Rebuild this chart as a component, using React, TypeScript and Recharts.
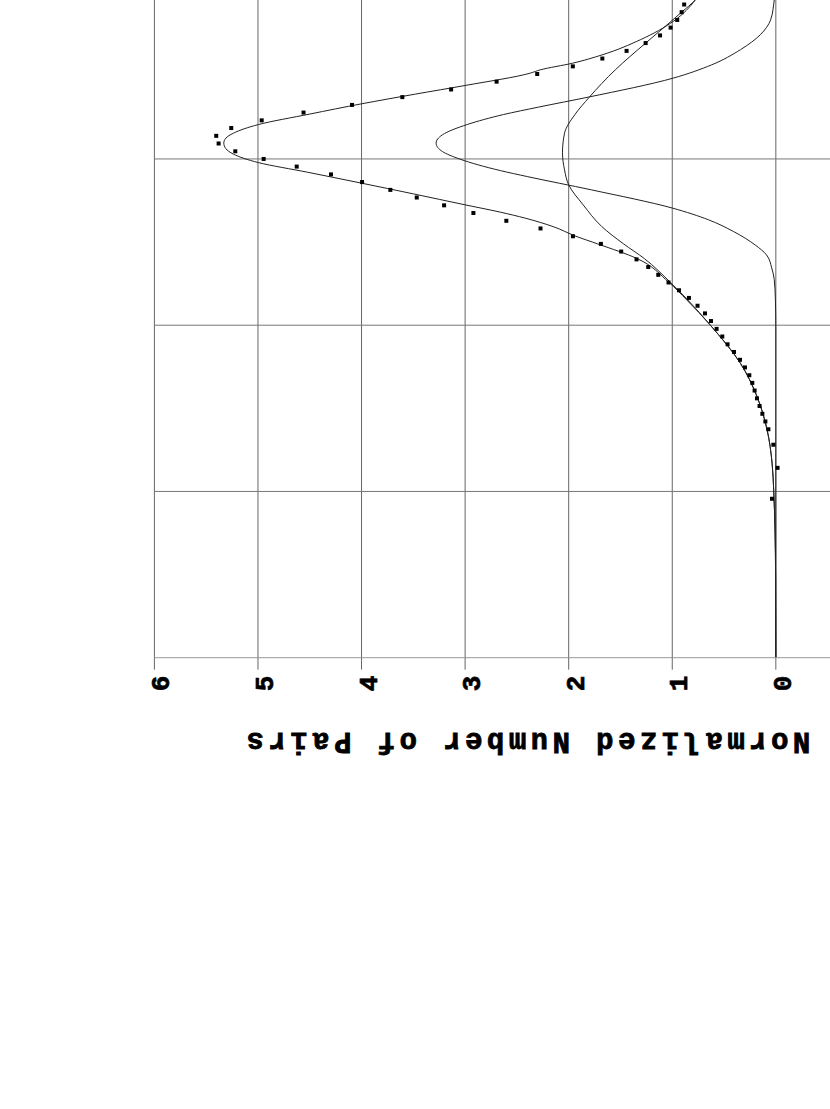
import React from 'react';
import { ComposedChart, Line, Scatter, XAxis, YAxis, CartesianGrid, ReferenceLine } from 'recharts';

// ---- data ----
const axisTitle = 'Normalized Number of Pairs';
const valueTicks = [-1, 0, 1, 2, 3, 4, 5, 6];
const valueGrid = [0, 1, 2, 3, 4, 5, 6];
const xTicks = [0, 1, 2, 3, 4];
const xGrid = [1, 2, 3, 4];

// measured points (small squares)
const dotX = [0.956, 1.142, 1.281, 1.374, 1.421, 1.467, 1.514, 1.560, 1.607, 1.653, 1.699, 1.746, 1.792, 1.839, 1.885, 1.932, 1.978, 2.025, 2.071, 2.117, 2.164, 2.210, 2.257, 2.303, 2.350, 2.396, 2.443, 2.489, 2.535, 2.582, 2.628, 2.675, 2.721, 2.768, 2.814, 2.861, 2.907, 2.954, 3.000, 3.046, 3.093, 3.139, 3.186, 3.232, 3.279, 3.325, 3.372, 3.418, 3.465, 3.511, 3.557, 3.604, 3.650, 3.697, 3.743, 3.790, 3.836, 3.883, 3.929];
const dotV = [0.037, -0.017, 0.024, 0.072, 0.101, 0.130, 0.157, 0.182, 0.205, 0.227, 0.256, 0.298, 0.346, 0.404, 0.466, 0.517, 0.572, 0.626, 0.684, 0.756, 0.839, 0.935, 1.036, 1.135, 1.232, 1.345, 1.493, 1.689, 1.959, 2.272, 2.602, 2.920, 3.203, 3.467, 3.722, 3.995, 4.295, 4.626, 4.945, 5.219, 5.380, 5.403, 5.258, 4.964, 4.560, 4.092, 3.606, 3.135, 2.696, 2.304, 1.960, 1.675, 1.441, 1.257, 1.118, 1.016, 0.952, 0.909, 0.885];

// total fit
const totalX = [0, 0.468, 0.768, 1.0, 1.17, 1.37, 1.57, 1.771, 2.0, 2.152, 2.259, 2.401, 2.489, 2.535, 2.593, 2.644, 2.680, 2.724, 2.790, 2.854, 2.920, 2.978, 3.029, 3.062, 3.095, 3.125, 3.155, 3.207, 3.270, 3.332, 3.390, 3.442, 3.516, 3.536, 3.576, 3.626, 3.717, 3.827, 3.957, 4.0];
const totalV = [0, 0.002, 0.008, 0.02, 0.036, 0.084, 0.181, 0.342, 0.632, 0.86, 1.035, 1.34, 1.72, 1.93, 2.15, 2.42, 2.66, 3.0, 3.5, 3.997, 4.52, 4.995, 5.237, 5.31, 5.33, 5.31, 5.237, 4.995, 4.5, 3.997, 3.48, 2.999, 2.372, 2.274, 1.962, 1.678, 1.308, 0.992, 0.777, 0.73];

// broad component
const wideX = [0, 0.468, 0.768, 1.0, 1.17, 1.37, 1.57, 1.771, 2.0, 2.152, 2.259, 2.401, 2.489, 2.593, 2.724, 2.844, 2.934, 3.037, 3.155, 3.267, 3.372, 3.536, 3.697, 3.807, 3.883, 3.957, 4.0];
const wideV = [0, 0.002, 0.008, 0.02, 0.036, 0.084, 0.181, 0.342, 0.632, 0.85, 1.02, 1.27, 1.47, 1.68, 1.86, 2.0, 2.04, 2.06, 2.04, 1.94, 1.80, 1.55, 1.257, 1.05, 0.909, 0.777, 0.72];

// narrow component
const narrowX = [0, 1.972, 2.152, 2.273, 2.345, 2.423, 2.483, 2.564, 2.634, 2.704, 2.814, 2.894, 2.930, 2.999, 3.045, 3.095, 3.145, 3.207, 3.267, 3.312, 3.372, 3.486, 3.566, 3.657, 3.747, 3.837, 3.957, 4.0];
const narrowV = [0, 0, 0.004, 0.015, 0.04, 0.09, 0.2, 0.41, 0.65, 0.996, 1.78, 2.40, 2.66, 3.05, 3.22, 3.28, 3.22, 2.98, 2.63, 2.29, 1.81, 0.992, 0.62, 0.342, 0.15, 0.05, 0.015, 0.005];

const zip = (xs: number[], vs: number[]) => xs.map((x, i) => ({ x, v: vs[i] }));
const dots = zip(dotX, dotV);
const totalData = zip(totalX, totalV);
const wideData = zip(wideX, wideV);
const narrowData = zip(narrowX, narrowV);

// ---- layout ----
const W = 845;
const H = 795;
const FONT = "'Courier New', 'Liberation Mono', monospace";

function ValueTick(props: any) {
  const { x, y, payload } = props;
  if (payload.value < 0) return null;
  return (
    <text
      x={x}
      y={y + 15}
      textAnchor="end"
      fontFamily={FONT}
      fontWeight="bold"
      fontSize={26}
      fill="#000"
      stroke="#000"
      strokeWidth={0.7}
    >
      {payload.value}
    </text>
  );
}

function TitleLabel() {
  const tx = 84.4;
  const ty = 391.8;
  return (
    <text
      x={tx}
      y={ty}
      transform={`rotate(-90, ${tx}, ${ty})`}
      textAnchor="middle"
      fontFamily={FONT}
      fontWeight="bold"
      fontSize={29}
      letterSpacing={4.45}
      fill="#000"
      stroke="#000"
      strokeWidth={0.8}
    >
      {axisTitle}
    </text>
  );
}

const Square = (p: any) => <rect x={p.cx - 2} y={p.cy - 2} width={4} height={4} fill="#000" />;

export default function App() {
  return (
    <div style={{ position: 'fixed', left: 0, top: 0, width: 830, height: 1109, overflow: 'hidden', background: '#fff' }}>
      <div
        style={{
          position: 'absolute',
          left: 0,
          top: 0,
          width: W,
          height: H,
          transformOrigin: '0 0',
          transform: 'translate(134.4px, 817.7px) rotate(-90deg)',
        }}
      >
        <ComposedChart width={W} height={H} margin={{ top: 20, right: 20, bottom: 20, left: 0 }}>
          <CartesianGrid stroke="#666" vertical={false} horizontalValues={valueGrid} />
          {xGrid.map((g) => (
            <ReferenceLine key={g} x={g} stroke="#777" strokeWidth={1} ifOverflow="visible" />
          ))}
          <XAxis
            type="number"
            dataKey="x"
            domain={[0, 4]}
            ticks={xTicks}
            tick={false}
            tickLine={false}
            height={30}
            axisLine={{ stroke: '#999' }}
            allowDataOverflow
          />
          <YAxis
            type="number"
            dataKey="v"
            domain={[-1, 6]}
            ticks={valueTicks}
            width={160}
            tickSize={12}
            tickMargin={6}
            tick={<ValueTick />}
            axisLine={{ stroke: '#999' }}
            tickLine={{ stroke: '#666' }}
            allowDataOverflow
            label={() => <TitleLabel />}
          />
          <Line data={wideData} dataKey="v" type="monotone" stroke="#222" strokeWidth={1} dot={false} isAnimationActive={false} />
          <Line data={narrowData} dataKey="v" type="monotone" stroke="#222" strokeWidth={1} dot={false} isAnimationActive={false} />
          <Line data={totalData} dataKey="v" type="monotone" stroke="#222" strokeWidth={1} dot={false} isAnimationActive={false} />
          <Scatter data={dots} dataKey="v" shape={Square} isAnimationActive={false} />
        </ComposedChart>
      </div>
    </div>
  );
}
